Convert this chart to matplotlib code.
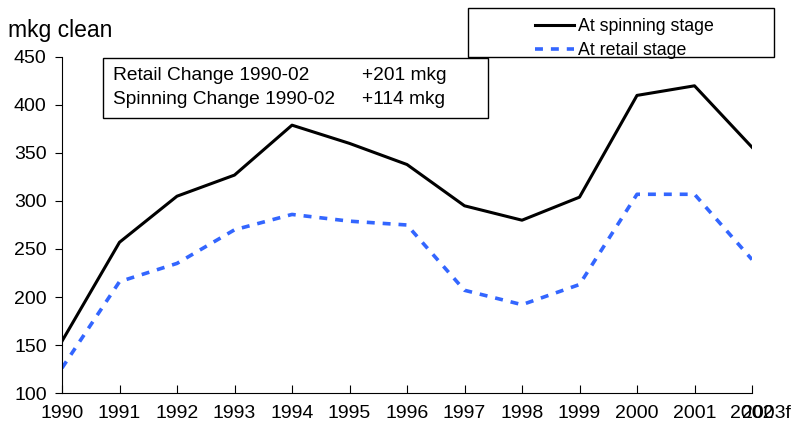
import matplotlib
matplotlib.use("Agg")
import matplotlib.pyplot as plt
from matplotlib.patches import Rectangle

plt.rcParams['font.family'] = ['Liberation Sans', 'DejaVu Sans']

years = [1990, 1991, 1992, 1993, 1994, 1995, 1996, 1997, 1998, 1999, 2000, 2001, 2002]
year_labels = ["1990", "1991", "1992", "1993", "1994", "1995", "1996",
               "1997", "1998", "1999", "2000", "2001", "2002"]
spinning = [154, 257, 305, 327, 379, 360, 338, 295, 280, 304, 410, 420, 356]
retail = [126, 216, 235, 270, 286, 279, 275, 207, 192, 213, 307, 307, 239]
extra_label = "2003f"
box_names = ["Retail Change 1990-02", "Spinning Change 1990-02"]
box_values = ["+201 mkg", "+114 mkg"]

W, H = 792, 433
fig = plt.figure(figsize=(W / 100, H / 100), dpi=100)
ax = fig.add_axes([62 / W, 1 - 393 / H, 690 / W, 336 / H])


def px(x, y):
    return x / W, 1 - y / H


ax.plot(years, spinning, color="black", lw=2.2, label="At spinning stage")
ax.plot(years, retail, color="#3366ff", lw=2.6, ls=(0, (2.2, 2.2)), label="At retail stage")

ax.set_xlim(years[0], years[-1])
ax.set_ylim(100, 450)
ax.set_yticks(range(100, 451, 50))
ax.set_xticks(years)
ax.set_xticklabels(year_labels)
ax.tick_params(axis="x", direction="in", length=6, labelsize=14, pad=9)
ax.tick_params(axis="y", direction="out", length=5, labelsize=14, pad=6)
for s in ["top", "right"]:
    ax.spines[s].set_visible(False)
# the forecast label sits on top of the last year, as in the source chart
ax.annotate(extra_label, xy=(years[-1], 0), xycoords=("data", "axes fraction"),
            xytext=(-7, -9), textcoords="offset points", ha="left", va="top", fontsize=14)

fig.text(*px(8, 30), "mkg clean", fontsize=16.5, ha="left", va="center")

# legend box
fig.patches.append(Rectangle(px(468, 57), 306 / W, 49 / H, transform=fig.transFigure,
                             fill=True, fc="white", ec="black", lw=1.0))
handles, labels = ax.get_legend_handles_labels()
leg = fig.legend(handles, labels, loc="upper left", bbox_to_anchor=px(526, 9),
                 frameon=False, fontsize=12.8, handlelength=2.2, borderpad=0,
                 labelspacing=0.4, handletextpad=0.25)

# change box
fig.patches.append(Rectangle(px(103, 118), 385 / W, 60 / H, transform=fig.transFigure,
                             fill=True, fc="white", ec="black", lw=1.0))
for i, (name, val) in enumerate(zip(box_names, box_values)):
    fig.text(*px(113, 76 + 24 * i), name, fontsize=13.8, ha="left", va="center")
    fig.text(*px(362, 76 + 24 * i), val, fontsize=13.8, ha="left", va="center")

fig.savefig("out.png", dpi=100)
